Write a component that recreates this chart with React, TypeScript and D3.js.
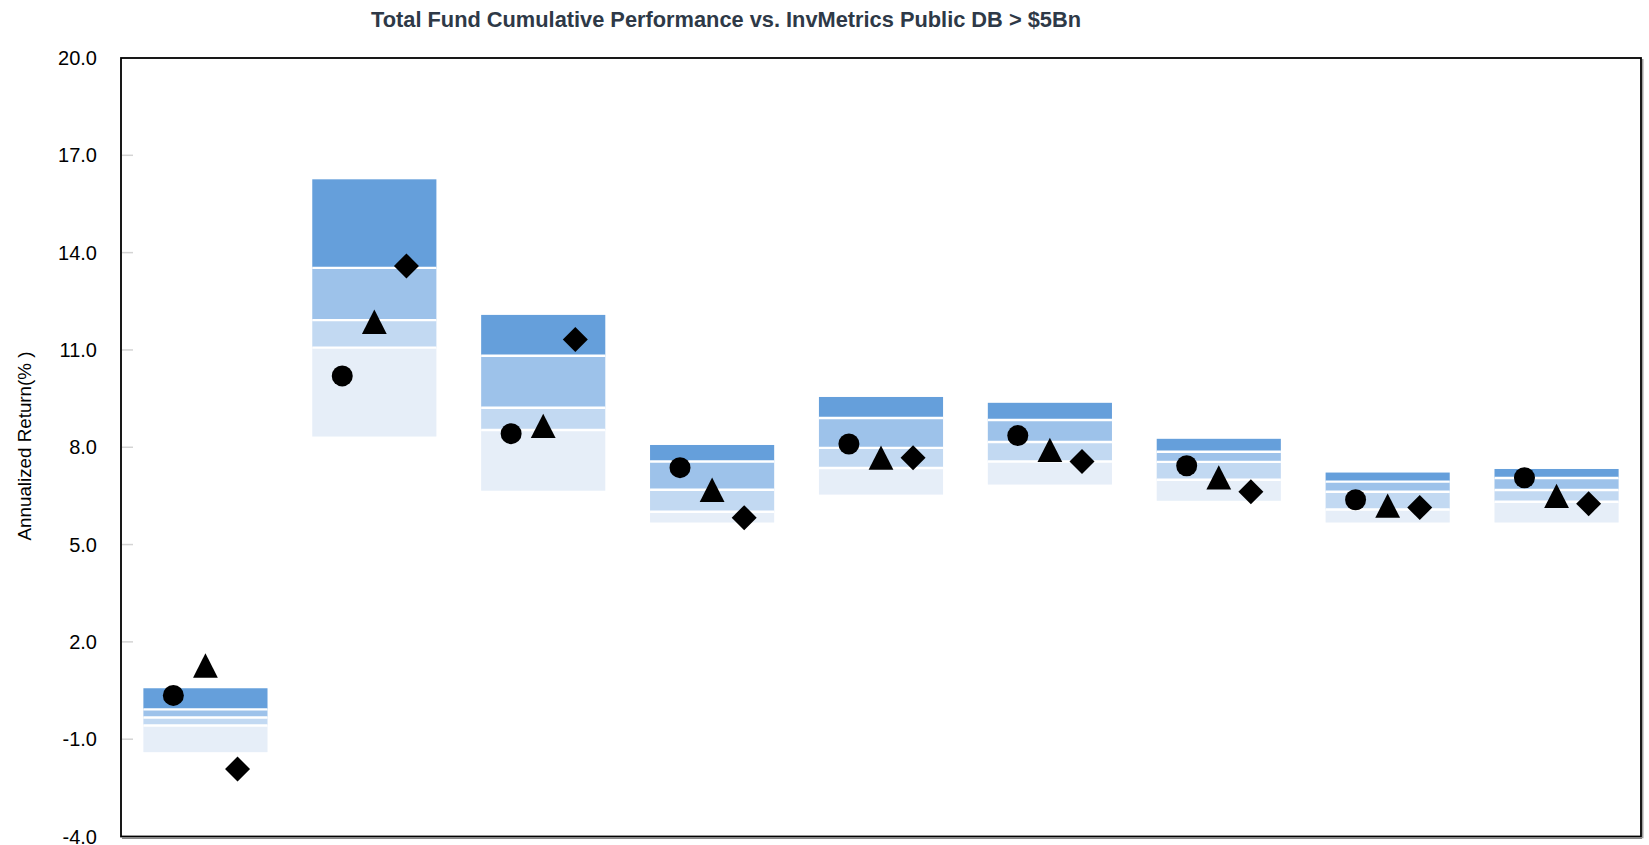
import React from "react";
import * as d3 from "d3";

const categories = ["P1", "P2", "P3", "P4", "P5", "P6", "P7", "P8", "P9"];
const p5 = [0.57, 16.26, 12.08, 8.07, 9.55, 9.37, 8.26, 7.22, 7.33];
const p25 = [-0.08, 13.53, 10.82, 7.56, 8.9, 8.84, 7.86, 6.94, 7.05];
const p50 = [-0.33, 11.92, 9.22, 6.69, 7.98, 8.16, 7.55, 6.63, 6.68];
const p75 = [-0.58, 11.07, 8.53, 6.01, 7.36, 7.56, 7.0, 6.08, 6.32];
const p95 = [-1.4, 8.33, 6.66, 5.68, 6.54, 6.85, 6.35, 5.68, 5.68];
const circleVals = [0.35, 10.2, 8.42, 7.37, 8.1, 8.36, 7.43, 6.38, 7.06];
const triangleVals = [1.27, 11.87, 8.66, 6.69, 7.68, 7.92, 7.07, 6.2, 6.5];
const diamondVals = [-1.92, 13.59, 11.32, 5.83, 7.68, 7.56, 6.63, 6.14, 6.26];
const yTicks = [20, 17, 14, 11, 8, 5, 2, -1, -4];
const bandColors = ["#659fdb", "#9dc2ea", "#c2d9f2", "#e6eef8"];
const title = "Total Fund Cumulative Performance vs. InvMetrics Public DB > $5Bn";
const yTitle = "Annualized Return(% )";

const W = 1649;
const H = 845;
const L = 121, T = 58, R = 1641, B = 836.5;

export default function App() {
  const x = d3.scaleBand<string>().domain(categories).range([L, R]).padding(0);
  const y = d3.scaleLinear().domain([-4, 20]).range([B, T]);
  const bw = x.bandwidth();
  const boxW = bw * 0.735;
  const off = bw * 0.19;
  const font = "'Liberation Sans', Arial, sans-serif";

  const tri = (cx: number, cy: number) =>
    `M${cx},${cy - 12.2}L${cx + 12.4},${cy + 12.2}L${cx - 12.4},${cy + 12.2}Z`;
  const dia = (cx: number, cy: number) =>
    `M${cx},${cy - 12.5}L${cx + 12.5},${cy}L${cx},${cy + 12.5}L${cx - 12.5},${cy}Z`;

  return (
    <svg
      width={W}
      height={H}
      style={{ position: "absolute", left: 0, top: 0, display: "block", background: "#fff" }}
    >
      <text
        x={726}
        y={27}
        textAnchor="middle"
        fontFamily={font}
        fontWeight="bold"
        fontSize={22}
        textLength={710}
        lengthAdjust="spacingAndGlyphs"
        fill="#2e3947"
      >
        {title}
      </text>
      <text
        transform={`translate(31,446) rotate(-90)`}
        textAnchor="middle"
        fontFamily={font}
        fontSize={18.8}
        fill="#000"
      >
        {yTitle}
      </text>
      {yTicks.map((t) => (
        <g key={t}>
          <text
            x={97}
            y={y(t) + 7}
            textAnchor="end"
            fontFamily={font}
            fontSize={20}
            fill="#000"
          >
            {t.toFixed(1)}
          </text>
          {t !== 20 && t !== -4 && (
            <line x1={L + 1} x2={L + 12} y1={y(t)} y2={y(t)} stroke="#d4d4d4" strokeWidth={1.5} />
          )}
        </g>
      ))}
      {categories.map((c, i) => {
        const cx = (x(c) as number) + bw / 2;
        const x0 = cx - boxW / 2;
        const bounds = [p5[i], p25[i], p50[i], p75[i], p95[i]];
        return (
          <g key={c}>
            {bandColors.map((col, k) => (
              <rect
                key={k}
                x={x0}
                y={y(bounds[k])}
                width={boxW}
                height={y(bounds[k + 1]) - y(bounds[k])}
                fill={col}
              />
            ))}
            {[1, 2, 3].map((k) => (
              <line
                key={k}
                x1={x0}
                x2={x0 + boxW}
                y1={y(bounds[k])}
                y2={y(bounds[k])}
                stroke="#fff"
                strokeWidth={2.4}
              />
            ))}
            <circle cx={cx - off} cy={y(circleVals[i])} r={10.5} fill="#000" />
            <path d={tri(cx, y(triangleVals[i]))} fill="#000" />
            <path d={dia(cx + off, y(diamondVals[i]))} fill="#000" />
          </g>
        );
      })}
      <line x1={L + 1} x2={R + 1} y1={B + 1.8} y2={B + 1.8} stroke="#888" strokeWidth={1.2} />
      <line x1={R + 1.8} x2={R + 1.8} y1={T + 1} y2={B + 1.8} stroke="#888" strokeWidth={1.2} />
      <rect x={L} y={T} width={R - L} height={B - T} fill="none" stroke="#000" strokeWidth={1.8} />
    </svg>
  );
}
